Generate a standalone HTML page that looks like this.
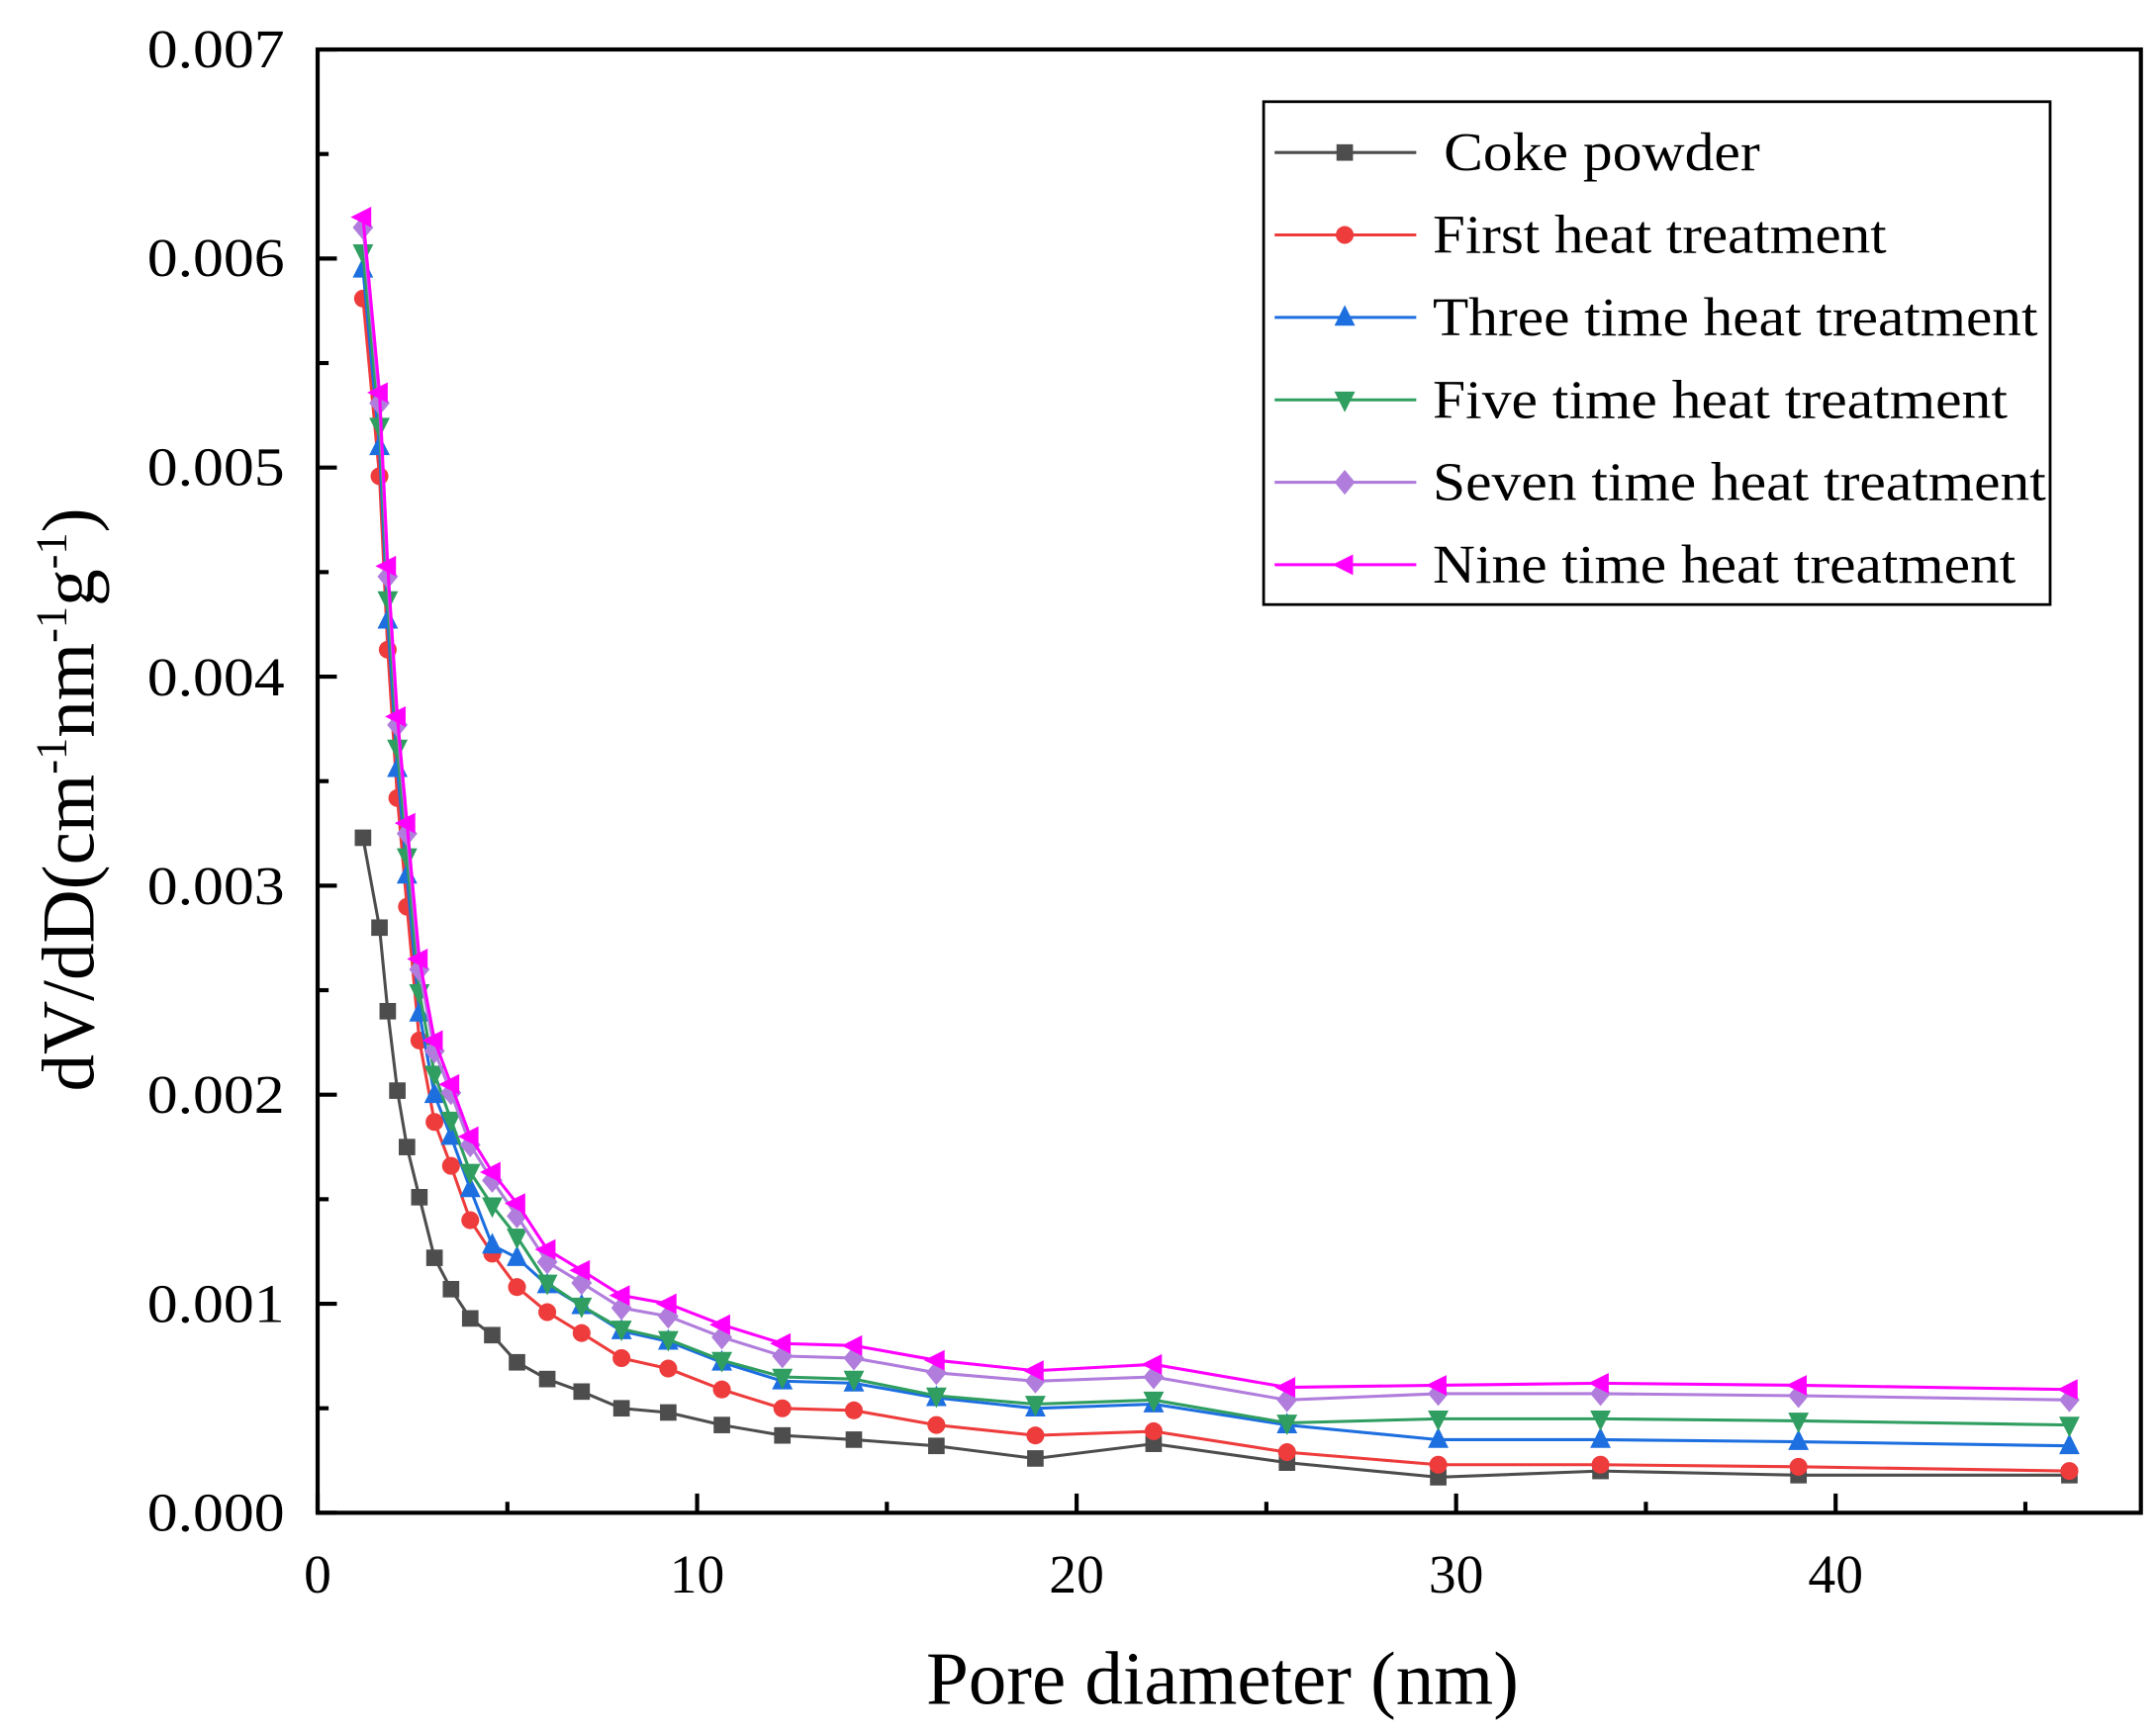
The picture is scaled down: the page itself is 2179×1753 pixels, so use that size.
<!DOCTYPE html>
<html><head><meta charset="utf-8"><style>html,body{margin:0;padding:0;background:#fff}svg{display:block}</style></head>
<body>
<svg id="s" width="2179" height="1753" viewBox="0 0 1568 1262" preserveAspectRatio="none" xmlns="http://www.w3.org/2000/svg" font-family="'Liberation Serif', serif">
<rect x="0" y="0" width="1568" height="1262" fill="#fff"/>
<g id="plot"></g>
<rect x="231" y="36" width="1326" height="1065" fill="none" stroke="#000" stroke-width="3"/>
<g id="ticks" stroke="#000" stroke-width="3"></g>
<g font-size="40" text-anchor="end" fill="#000" textLength="100">
<text x="207" y="1114" textLength="100" lengthAdjust="spacingAndGlyphs">0.000</text>
<text x="207" y="962" textLength="100" lengthAdjust="spacingAndGlyphs">0.001</text>
<text x="207" y="810" textLength="100" lengthAdjust="spacingAndGlyphs">0.002</text>
<text x="207" y="658" textLength="100" lengthAdjust="spacingAndGlyphs">0.003</text>
<text x="207" y="506" textLength="100" lengthAdjust="spacingAndGlyphs">0.004</text>
<text x="207" y="353" textLength="100" lengthAdjust="spacingAndGlyphs">0.005</text>
<text x="207" y="201" textLength="100" lengthAdjust="spacingAndGlyphs">0.006</text>
<text x="207" y="49" textLength="100" lengthAdjust="spacingAndGlyphs">0.007</text>
</g>
<g font-size="40" text-anchor="middle" fill="#000">
<text x="231" y="1159">0</text>
<text x="507" y="1159">10</text>
<text x="783" y="1159">20</text>
<text x="1059" y="1159">30</text>
<text x="1335" y="1159">40</text>
</g>
<text x="889" y="1240" font-size="55" text-anchor="middle" textLength="431" lengthAdjust="spacingAndGlyphs">Pore diameter (nm)</text>
<text transform="translate(68,582) rotate(-90)" font-size="54" text-anchor="middle">dV/dD(cm<tspan dy="-20" font-size="32">-1</tspan><tspan dy="20">nm</tspan><tspan dy="-20" font-size="32">-1</tspan><tspan dy="20">g</tspan><tspan dy="-20" font-size="32">-1</tspan><tspan dy="20">)</tspan></text>
<rect x="919" y="74" width="572" height="366" fill="#fff" stroke="#000" stroke-width="2"/>
<g id="legend"></g>
</svg>
<script>
var NS="http://www.w3.org/2000/svg";
function el(t,a,p){var e=document.createElementNS(NS,t);for(var k in a)e.setAttribute(k,a[k]);p.appendChild(e);return e;}
var ticks=document.getElementById('ticks');
for(var i=0;i<=14;i++){var y=1101-i*76.07;var L=(i%2==0)?14:8;el('line',{x1:231,y1:y,x2:231+L,y2:y},ticks);}
for(var i=0;i<=9;i++){var x=231+i*138;var L=(i%2==0)?14:8;el('line',{x1:x,y1:1101,x2:x,y2:1101-L},ticks);}
var xs=[264,276,282,289,296,305,316,328,342,358,376,398,423,452,486,525,569,621,681,753,839,936,1046,1164,1308,1505];
var S=[
{c:'#4d4d4d',m:'sq',n:'Coke powder',v:[3.23,2.8,2.4,2.02,1.75,1.51,1.22,1.07,0.93,0.85,0.72,0.64,0.58,0.5,0.48,0.42,0.37,0.35,0.32,0.26,0.33,0.24,0.17,0.20,0.18,0.18]},
{c:'#ee3c3c',m:'ci',n:'First heat treatment',v:[5.81,4.96,4.13,3.42,2.90,2.26,1.87,1.66,1.40,1.24,1.08,0.96,0.86,0.74,0.69,0.59,0.50,0.49,0.42,0.37,0.39,0.29,0.23,0.23,0.22,0.20]},
{c:'#1d6fe0',m:'tu',n:'Three time heat treatment',v:[5.95,5.10,4.27,3.56,3.05,2.39,2.00,1.80,1.55,1.28,1.22,1.09,0.99,0.87,0.82,0.72,0.63,0.62,0.55,0.50,0.52,0.42,0.35,0.35,0.34,0.32]},
{c:'#2f9e60',m:'td',n:'Five time heat treatment',v:[6.03,5.20,4.37,3.66,3.14,2.49,2.10,1.88,1.63,1.47,1.32,1.10,0.99,0.88,0.83,0.73,0.65,0.64,0.56,0.52,0.54,0.43,0.45,0.45,0.44,0.42]},
{c:'#b07ddc',m:'di',n:'Seven time heat treatment',v:[6.15,5.31,4.48,3.77,3.25,2.60,2.21,2.01,1.76,1.59,1.42,1.20,1.10,0.98,0.94,0.84,0.75,0.74,0.67,0.63,0.65,0.54,0.57,0.57,0.56,0.54]},
{c:'#ff00ff',m:'tl',n:'Nine time heat treatment',v:[6.20,5.36,4.53,3.81,3.30,2.65,2.26,2.05,1.80,1.63,1.48,1.26,1.16,1.04,1.00,0.90,0.81,0.80,0.73,0.68,0.71,0.60,0.61,0.62,0.61,0.59]}
];
function mk(m,x,y,c,p){
 if(m=='sq')el('rect',{x:x-6,y:y-6,width:12,height:12,fill:c},p);
 else if(m=='ci')el('circle',{cx:x,cy:y,r:6.5,fill:c},p);
 else if(m=='tu')el('polygon',{points:(x)+','+(y-9)+' '+(x-7.5)+','+(y+6)+' '+(x+7.5)+','+(y+6),fill:c},p);
 else if(m=='td')el('polygon',{points:(x)+','+(y+9)+' '+(x-7.5)+','+(y-6)+' '+(x+7.5)+','+(y-6),fill:c},p);
 else if(m=='di')el('polygon',{points:(x)+','+(y-9)+' '+(x-7.5)+','+(y)+' '+(x)+','+(y+9)+' '+(x+7.5)+','+(y),fill:c},p);
 else if(m=='tl')el('polygon',{points:(x-9)+','+(y)+' '+(x+6)+','+(y-7.5)+' '+(x+6)+','+(y+7.5),fill:c},p);
}
var plot=document.getElementById('plot'),lg=document.getElementById('legend');
var tl=[230,330,440,418,446,424];
S.forEach(function(s,k){
 var pts=xs.map(function(x,i){return x+','+(1101-s.v[i]*152.1).toFixed(1)}).join(' ');
 el('polyline',{points:pts,fill:'none',stroke:s.c,'stroke-width':2.2},plot);
 xs.forEach(function(x,i){mk(s.m,x,1101-s.v[i]*152.1,s.c,plot);});
 var y=111+k*60;
 el('line',{x1:927,y1:y,x2:1030,y2:y,stroke:s.c,'stroke-width':2.2},lg);
 mk(s.m,978,y,s.c,lg);
 var t=el('text',{x:(k==0?1050:1042),y:y+13,'font-size':40,fill:'#000',textLength:tl[k],lengthAdjust:'spacingAndGlyphs'},lg);
 t.textContent=s.n;
});
</script>
</body></html>
